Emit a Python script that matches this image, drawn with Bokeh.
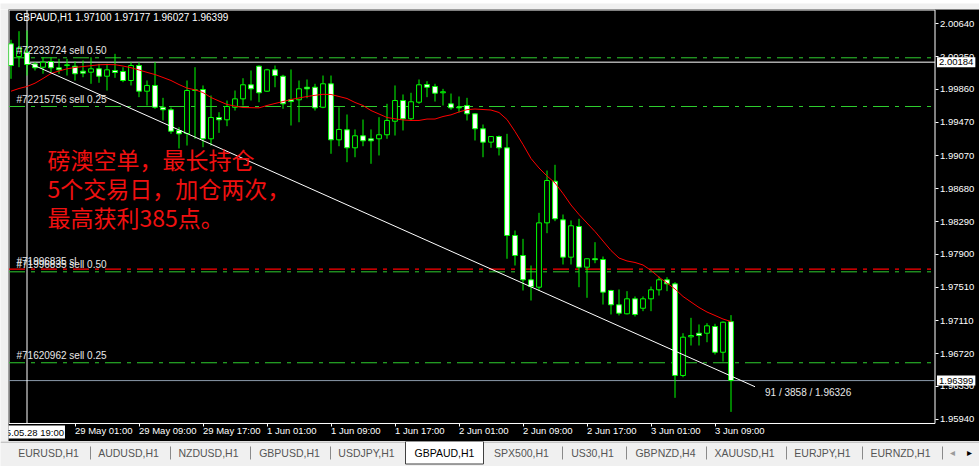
from bokeh.plotting import figure
from bokeh.layouts import column, row
from bokeh.models import (Range1d, LinearAxis, FixedTicker, PrintfTickFormatter,
                          Label, ColumnDataSource)
from bokeh.core.properties import value
from bokeh.core.validation import silence
from bokeh.core.validation.warnings import MISSING_RENDERERS
from bokeh.embed import file_html
from bokeh.resources import INLINE

silence(MISSING_RENDERERS, True)

# ---------------- GBPAUD H1, 28 May 17:00 -> 3 Jun 11:00 (bar index 0..90) ----------------
symbol = "GBPAUD,H1"

opens = [2.00402, 2.00251, 2.00302, 2.00164, 2.00124, 2.00192, 2.00117, 2.00144, 2.00136, 2.00077,
         2.00065, 2.00105, 2.00017, 2.00085, 2.00073, 1.99966, 2.00144, 1.99839, 1.99907, 1.99648,
         1.99618, 1.99372, 1.99336, 1.99847, 1.99859, 1.99273, 1.99526, 1.99499, 1.99648, 1.99748,
         1.99915, 2.00136, 1.99839, 2.00093, 2.00017, 1.99737, 1.99737, 1.99886, 1.99886, 1.99648,
         1.99927, 1.99261, 1.99380, 1.99166, 1.99309, 1.99273, 1.99273, 1.99321, 1.99482, 1.99728,
         1.99511, 1.99708, 1.99918, 1.99895, 1.99820, 1.99689, 1.99648, 1.99669, 1.99570, 1.99392,
         1.99233, 1.99300, 1.99166, 1.98124, 1.97886, 1.97597, 1.97509, 1.98274, 1.98769, 1.98310,
         1.97866, 1.98231, 1.97747, 1.97847, 1.97838, 1.97470, 1.97300, 1.97193, 1.97371, 1.97259,
         1.97371, 1.97478, 1.97597, 1.97549, 1.96460, 1.96919, 1.96962, 1.96962, 1.97042, 1.96736,
         1.97100]

highs = [2.00450, 2.00552, 2.00560, 2.00184, 2.00243, 2.00243, 2.00224, 2.00224, 2.00195, 2.00204,
         2.00243, 2.00164, 2.00164, 2.00283, 2.00124, 2.00184, 2.00184, 1.99966, 2.00184, 1.99760,
         1.99645, 1.99411, 1.99966, 2.00124, 1.99907, 1.99788, 1.99589, 1.99728, 1.99847, 1.99993,
         2.00085, 2.00144, 2.00105, 2.00144, 2.00034, 2.00097, 1.99966, 1.99978, 1.99927, 2.00025,
         2.00025, 1.99648, 1.99562, 1.99384, 1.99502, 1.99384, 1.99530, 1.99689, 1.99907, 1.99800,
         1.99820, 1.99978, 1.99958, 1.99927, 1.99867, 1.99811, 1.99776, 1.99760, 1.99577, 1.99443,
         1.99300, 1.99312, 1.99332, 1.98183, 1.98084, 1.97767, 1.98393, 1.98896, 1.98964, 1.98373,
         1.98302, 1.98322, 1.97850, 1.98044, 1.97874, 1.97478, 1.97482, 1.97462, 1.97399, 1.97399,
         1.97517, 1.97636, 1.97628, 1.97569, 1.96962, 1.97145, 1.97066, 1.97081, 1.97074, 1.97101,
         1.97177]

lows = [1.99986, 2.00124, 2.00025, 2.00085, 2.00046, 2.00065, 2.00046, 2.00025, 1.99966, 2.00005,
        1.99927, 1.99939, 1.99847, 1.99998, 1.99946, 1.99907, 1.99768, 1.99669, 1.99630, 1.99491,
        1.99332, 1.99158, 1.99193, 1.99273, 1.99173, 1.99193, 1.99344, 1.99423, 1.99609, 1.99669,
        1.99728, 1.99708, 1.99832, 1.99886, 1.99630, 1.99431, 1.99470, 1.99756, 1.99609, 1.99637,
        1.99095, 1.99185, 1.98995, 1.99054, 1.99185, 1.98976, 1.99075, 1.99273, 1.99312, 1.99372,
        1.99491, 1.99689, 1.99768, 1.99716, 1.99669, 1.99618, 1.99586, 1.99491, 1.99253, 1.99054,
        1.99166, 1.99075, 1.97847, 1.97767, 1.97470, 1.97351, 1.97470, 1.98151, 1.98294, 1.97779,
        1.97779, 1.97509, 1.97383, 1.97794, 1.97303, 1.97185, 1.97173, 1.97185, 1.97161, 1.97224,
        1.97224, 1.97410, 1.97462, 1.96194, 1.96439, 1.96816, 1.96816, 1.96855, 1.96709, 1.96626,
        1.96027]

closes = [2.00144, 2.00355, 2.00156, 2.00117, 2.00184, 2.00117, 2.00093, 2.00153, 2.00046, 2.00053,
          2.00105, 2.00017, 2.00093, 2.00061, 1.99966, 2.00144, 1.99839, 1.99907, 1.99648, 1.99618,
          1.99363, 1.99332, 1.99847, 1.99856, 1.99273, 1.99526, 1.99499, 1.99657, 1.99748, 1.99915,
          1.99867, 1.99820, 2.00093, 2.00025, 1.99689, 1.99716, 1.99867, 1.99867, 1.99641, 1.99927,
          1.99261, 1.99384, 1.99166, 1.99309, 1.99249, 1.99249, 1.99321, 1.99491, 1.99728, 1.99511,
          1.99713, 1.99915, 1.99886, 1.99815, 1.99832, 1.99641, 1.99641, 1.99570, 1.99392, 1.99233,
          1.99300, 1.99166, 1.98124, 1.97886, 1.97597, 1.97517, 1.98274, 1.98777, 1.98322, 1.97866,
          1.98239, 1.97747, 1.97847, 1.97836, 1.97450, 1.97300, 1.97200, 1.97371, 1.97185, 1.97371,
          1.97478, 1.97597, 1.97549, 1.96460, 1.96915, 1.96935, 1.96935, 1.97050, 1.96736, 1.97093,
          1.96399]

# moving average (red)
ma = [1.99839, 1.99871, 1.99895, 1.99934, 1.99990, 2.00049, 2.00079, 2.00105, 2.00121, 2.00132,
      2.00142, 2.00153, 2.00156, 2.00154, 2.00138, 2.00118, 2.00091, 2.00063, 2.00037, 2.00002,
      1.99966, 1.99918, 1.99876, 1.99855, 1.99823, 1.99764, 1.99722, 1.99681, 1.99662, 1.99645,
      1.99643, 1.99641, 1.99669, 1.99693, 1.99716, 1.99740, 1.99758, 1.99776, 1.99790, 1.99802,
      1.99800, 1.99776, 1.99752, 1.99705, 1.99669, 1.99609, 1.99568, 1.99526, 1.99511, 1.99497,
      1.99491, 1.99491, 1.99508, 1.99508, 1.99538, 1.99558, 1.99592, 1.99619, 1.99627, 1.99621,
      1.99615, 1.99586, 1.99502, 1.99360, 1.99205, 1.99039, 1.98926, 1.98831, 1.98748, 1.98623,
      1.98486, 1.98373, 1.98272, 1.98171, 1.98058, 1.97945, 1.97856, 1.97821, 1.97803, 1.97773,
      1.97708, 1.97628, 1.97559, 1.97488, 1.97399, 1.97333, 1.97268, 1.97214, 1.97173, 1.97131,
      1.97101]

bar_index = list(range(len(closes)))

price_ticks = [2.00640, 2.00250, 1.99860, 1.99470, 1.99070, 1.98680, 1.98290,
               1.97900, 1.97510, 1.97110, 1.96720, 1.96330, 1.95940]
time_tick_idx = [8, 16, 24, 32, 40, 48, 56, 64, 72, 80, 88]
time_tick_labels = ["29 May 01:00", "29 May 09:00", "29 May 17:00", "1 Jun 01:00",
                    "1 Jun 09:00", "1 Jun 17:00", "2 Jun 01:00", "2 Jun 09:00",
                    "2 Jun 17:00", "3 Jun 01:00", "3 Jun 09:00"]

# marked bar (vertical line) and trend line
marker_idx = 2
marker_time = "2015.05.28 19:00"
trend_start_idx, trend_end_idx = 2, 93
trend_start_price, trend_end_price = 2.00184, 1.96326

# order levels
order_labels = ["#72233724 sell 0.50", "#72215756 sell 0.25", "#71996835 sell 0.50", "#71620962 sell 0.25"]
order_prices = [2.00236, 1.99657, 1.97692, 1.96611]
sl_label = "#71996835 sl"
sl_price = 1.97723

note_lines = ["磅澳空单，最长持仓", "5个交易日，加仓两次，", "最高获利385点。"]

tab_names = ["EURUSD,H1", "AUDUSD,H1", "NZDUSD,H1", "GBPUSD,H1", "USDJPY,H1", "GBPAUD,H1",
             "SPX500,H1", "US30,H1", "GBPNZD,H4", "XAUUSD,H1", "EURJPY,H1", "EURNZD,H1"]
active_tab = "GBPAUD,H1"

# ---------------- styling / layout constants ----------------
LIME = "#00ff00"
LEVEL_GREEN = "#2ecc2e"
UI_FONT = "Liberation Sans"
GRAY_UI = "#f0f0f0"

# the black pane holds the chart plus the price and time scales;
# the chart itself ends at CHART_RIGHT (bars) and CHART_BOTTOM (price)
X_START, X_END = -0.3125, 121.0625
Y_START, Y_END = 1.95675, 2.00810
CHART_RIGHT = 115.5
CHART_BOTTOM = 1.95889
CHART_LEFT = -0.25
CHART_TOP = 2.00804

p = figure(width=971, height=432,
           x_range=Range1d(X_START, X_END), y_range=Range1d(Y_START, Y_END),
           x_axis_location=None, y_axis_location=None,
           toolbar_location=None, output_backend="svg",
           min_border_left=0, min_border_top=0, min_border_right=0, min_border_bottom=0,
           background_fill_color="black", border_fill_color="black",
           outline_line_color=None)
p.grid.visible = False

# chart border
p.quad(left=[CHART_LEFT], right=[CHART_RIGHT], top=[CHART_TOP], bottom=[CHART_BOTTOM],
       fill_alpha=0, line_color="white", line_width=1)

# price scale on the chart's right edge
yaxis = LinearAxis(fixed_location=CHART_RIGHT, ticker=FixedTicker(ticks=price_ticks),
                   formatter=PrintfTickFormatter(format="%.5f"),
                   axis_line_color=None, major_tick_line_color="white",
                   major_tick_out=3, major_tick_in=0, minor_tick_line_color=None,
                   major_label_text_color="white", major_label_text_font=UI_FONT,
                   major_label_text_font_size="9.5px", major_label_standoff=2)
p.add_layout(yaxis, "right")

# time scale along the chart's bottom edge; a tiny negative angle makes each
# label start at its tick
xaxis = LinearAxis(fixed_location=CHART_BOTTOM, ticker=FixedTicker(ticks=time_tick_idx),
                   major_label_overrides=dict(zip(time_tick_idx, time_tick_labels)),
                   axis_line_color=None, major_tick_line_color="white",
                   major_tick_out=3, major_tick_in=0, minor_tick_line_color=None,
                   major_label_text_color="white", major_label_text_font=UI_FONT,
                   major_label_text_font_size="9.5px", major_label_standoff=4,
                   major_label_orientation=-1e-6)
p.add_layout(xaxis, "below")

# order levels, stop level, bid line
n = len(order_prices)
p.segment(x0=[CHART_LEFT] * n, y0=order_prices, x1=[CHART_RIGHT] * n, y1=order_prices,
          line_color=LEVEL_GREEN, line_width=1, line_dash="16 6 4 6")
p.segment(x0=[CHART_LEFT], y0=[sl_price], x1=[CHART_RIGHT], y1=[sl_price],
          line_color="#ff0000", line_width=1.3, line_dash="16 6 4 6")
p.segment(x0=[CHART_LEFT], y0=[closes[-1]], x1=[CHART_RIGHT], y1=[closes[-1]],
          line_color="#8a9aaa", line_width=1)

# vertical marker and horizontal line from the trend start
p.segment(x0=[marker_idx], y0=[CHART_BOTTOM], x1=[marker_idx], y1=[CHART_TOP],
          line_color="white", line_width=1)
p.segment(x0=[trend_start_idx], y0=[trend_start_price], x1=[CHART_RIGHT], y1=[trend_start_price],
          line_color="white", line_width=1)

# candles
src = ColumnDataSource(dict(
    x=bar_index, high=highs, low=lows,
    top=[max(o, c) for o, c in zip(opens, closes)],
    bottom=[min(o, c) for o, c in zip(opens, closes)],
    fill=["white" if c < o else "black" for o, c in zip(opens, closes)],
))
p.segment(x0="x", y0="high", x1="x", y1="low", source=src, line_color=LIME, line_width=1)
p.vbar(x="x", width=0.6, top="top", bottom="bottom", source=src,
       fill_color="fill", line_color=LIME, line_width=1)

# moving average
p.line(bar_index, ma, line_color="#ff0000", line_width=1)

# trend line and its label
p.segment(x0=[trend_start_idx], y0=[trend_start_price], x1=[trend_end_idx], y1=[trend_end_price],
          line_color="white", line_width=1)
trend_text = "%d / %d / %.5f" % (trend_end_idx - trend_start_idx,
                                 round((trend_start_price - trend_end_price) * 1e5), trend_end_price)
p.text(x=[trend_end_idx], y=[trend_end_price], text=[trend_text], text_color="#e8e8e8",
       text_font=value(UI_FONT), text_font_size="10px", text_baseline="middle",
       x_offset=10, y_offset=6)

# level labels
for txt, price in list(zip(order_labels, order_prices)) + [(sl_label, sl_price)]:
    p.add_layout(Label(x=8, y=price, x_units="screen", y_units="data", text=txt,
                       text_color="#e8e8e8", text_font=UI_FONT, text_font_size="10px",
                       text_baseline="bottom", y_offset=2))

# header
header = "%s  %.5f %.5f %.5f %.5f" % (symbol, opens[-1], highs[-1], lows[-1], closes[-1])
p.add_layout(Label(x=7, y=424, x_units="screen", y_units="screen", text=header,
                   text_color="white", text_font=UI_FONT, text_font_size="10px",
                   text_baseline="middle"))

# note
for k, line in enumerate(note_lines):
    p.add_layout(Label(x=39, y=283 - 29 * k, x_units="screen", y_units="screen", text=line,
                       text_color="#f01010", text_font="Noto Sans CJK SC", text_font_size="23px",
                       text_baseline="middle"))

# highlighted values on the scales
for price in [trend_start_price, closes[-1]]:
    p.add_layout(Label(x=CHART_RIGHT + 0.25, y=price, x_units="data", y_units="data",
                       text="%.5f" % price, text_color="black", background_fill_color="white",
                       padding=2, text_font=UI_FONT, text_font_size="9.5px",
                       text_baseline="middle"))
p.add_layout(Label(x=marker_idx, y=9.5, x_units="data", y_units="screen", text=marker_time,
                   text_color="black", background_fill_color="white", padding=1,
                   text_align="center", text_font=UI_FONT, text_font_size="9.5px",
                   text_baseline="middle"))

# ---------------- window chrome ----------------
def plain(w, h):
    f = figure(width=w, height=h, toolbar_location=None, output_backend="svg",
               x_axis_location=None, y_axis_location=None, min_border=0,
               background_fill_color=GRAY_UI, border_fill_color=GRAY_UI, outline_line_color=None)
    f.grid.visible = False
    return f

top_bar = plain(979, 9)
left_bar = plain(8, 432)

tabs = figure(width=979, height=25, x_range=Range1d(0, 979), y_range=Range1d(25, 0),
              toolbar_location=None, output_backend="svg",
              x_axis_location=None, y_axis_location=None, min_border=0,
              background_fill_color=GRAY_UI, border_fill_color=GRAY_UI, outline_line_color=None)
tabs.grid.visible = False
tab_centers = [48, 128, 208, 289, 366, 444, 521, 592, 665, 744, 822, 900]
tab_separators = [90, 170, 250, 330, 562, 626, 706, 786, 862, 942]
tabs.segment(x0=[0], y0=[0.5], x1=[979], y1=[0.5], line_color="#9a9a9a")
tabs.quad(left=[405], right=[483], top=[0], bottom=[22.5], fill_color="white",
          line_color="#404040", line_width=1)
tabs.segment(x0=tab_separators, y0=[5] * len(tab_separators), x1=tab_separators,
             y1=[18] * len(tab_separators), line_color="#8a8a8a")
tabs.text(x=tab_centers, y=[11] * len(tab_centers), text=tab_names,
          text_color=["black" if n == active_tab else "#555555" for n in tab_names],
          text_font=value(UI_FONT), text_font_size="10.5px",
          text_align="center", text_baseline="middle")
tabs.text(x=[952, 969], y=[11, 11], text=["◂", "▸"], text_color=["#9a9a9a", "black"],
          text_font=value("DejaVu Sans"), text_font_size="10px",
          text_align="center", text_baseline="middle")

layout = column(top_bar, row(left_bar, p), tabs)

with open("out.html", "w") as fh:
    fh.write(file_html(layout, INLINE))
